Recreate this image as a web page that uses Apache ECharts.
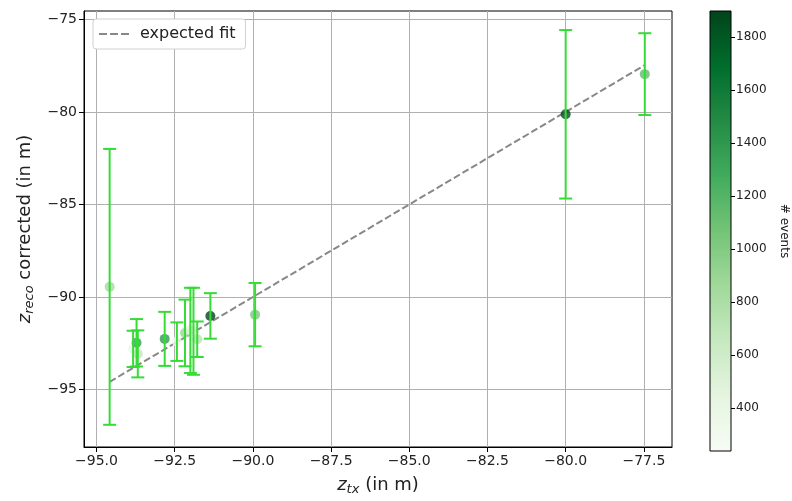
<!DOCTYPE html>
<html>
<head>
<meta charset="utf-8">
<script src="https://cdn.jsdelivr.net/npm/echarts@6/dist/echarts.min.js"></script>
<style>
  html, body { margin: 0; padding: 0; background: #fff; }
  #main { width: 792px; height: 501px; }
</style>
</head>
<body>
<div id="main"></div>
<script>
// z_tx (in m)
var zTx = [-94.58, -93.83, -93.72, -93.68, -92.82, -92.43, -92.17, -92.0, -91.9, -91.78, -91.36, -89.93, -80.0, -77.47];
// z_reco corrected (in m)
var zReco = [-89.45, -92.8, -92.47, -93.07, -92.26, -92.41, -91.94, -91.8, -91.85, -92.28, -91.02, -90.95, -80.13, -77.96];
// error on z_reco
var zErr = [7.45, 0.98, 1.28, 1.27, 1.46, 1.04, 1.8, 2.3, 2.35, 0.96, 1.23, 1.71, 4.55, 2.21];
// # events (colour)
var nEvents = [850, 400, 1350, 650, 1400, 300, 900, 450, 500, 750, 1900, 1040, 1850, 1150];

var xTicks = [-95, -92.5, -90, -87.5, -85, -82.5, -80, -77.5];
var yTicks = [-95, -90, -85, -80, -75];
var cbTicks = [400, 600, 800, 1000, 1200, 1400, 1600, 1800];
var cbMin = 238, cbMax = 1898;

// matplotlib Greens
var greens = ['#f7fcf5', '#e5f5e0', '#c7e9c0', '#a1d99b', '#74c476', '#41ab5d', '#238b45', '#006d2c', '#00441b'];

var fitLine = [[zTx[0], zTx[0]], [zTx[zTx.length - 1], zTx[zTx.length - 1]]];

var pts = [], errs = [];
for (var i = 0; i < zTx.length; i++) {
    pts.push([zTx[i], zReco[i], nEvents[i]]);
    errs.push([zTx[i], zReco[i], zErr[i]]);
}

function minus(s) { return String(s).replace('-', '\u2212'); }

var font = 'DejaVu Sans';
var cbStops = greens.map(function (c, k) { return {offset: k / (greens.length - 1), color: c}; });

var myChart = echarts.init(document.getElementById('main'));
myChart.setOption({
    animation: false,
    textStyle: {fontFamily: font},
    grid: [
        {left: 84, right: 120, top: 11, bottom: 49, show: true, borderColor: '#000', borderWidth: 1},
        {left: 710, width: 21, top: 11, bottom: 50, show: true, borderColor: '#000', borderWidth: 1,
            backgroundColor: new echarts.graphic.LinearGradient(0, 1, 0, 0, cbStops)}
    ],
    legend: {
        data: [{name: 'expected fit', icon: 'path://M0,0h8v2h-8zM11,0h8v2h-8zM22,0h8v2h-8z'}],
        left: 93, top: 19,
        padding: [7, 10, 7, 6],
        itemWidth: 30, itemHeight: 2, itemGap: 8,
        borderColor: '#d0d0d0', borderWidth: 1, borderRadius: 3,
        backgroundColor: '#fff',
        textStyle: {fontFamily: font, fontSize: 16, color: '#222', padding: [0, 0, 0, 6]}
    },
    visualMap: {
        show: false,
        type: 'continuous',
        seriesIndex: 1,
        dimension: 2,
        min: cbMin, max: cbMax,
        inRange: {color: greens}
    },
    xAxis: [{
        type: 'value', gridIndex: 0,
        min: -95.4, max: -76.6,
        name: '{i|z}{s|tx} (in m)',
        nameLocation: 'middle', nameGap: 27,
        nameTextStyle: {
            fontSize: 18, color: '#222',
            rich: {
                i: {fontStyle: 'italic', fontSize: 18, fontFamily: font, color: '#222'},
                s: {fontStyle: 'italic', fontSize: 13, fontFamily: font, color: '#222', padding: [9, 0, 0, 0]}
            }
        },
        axisLine: {show: true, onZero: false, lineStyle: {color: '#000'}},
        axisTick: {show: true, length: 5, customValues: xTicks, lineStyle: {color: '#000'}},
        axisLabel: {customValues: xTicks, fontSize: 14, color: '#222', margin: 7,
            formatter: function (v) { return minus(v.toFixed(1)); }},
        splitLine: {show: true, lineStyle: {color: '#b0b0b0', width: 1}}
    }, {
        type: 'category', gridIndex: 1, data: ['cb'], show: false
    }],
    yAxis: [{
        type: 'value', gridIndex: 0,
        min: -98.1, max: -74.55,
        name: '{i|z}{s|reco} corrected (in m)',
        nameLocation: 'middle', nameGap: 42,
        nameTextStyle: {
            fontSize: 18, color: '#222',
            rich: {
                i: {fontStyle: 'italic', fontSize: 18, fontFamily: font, color: '#222'},
                s: {fontStyle: 'italic', fontSize: 13, fontFamily: font, color: '#222', padding: [9, 0, 0, 0]}
            }
        },
        axisLine: {show: true, onZero: false, lineStyle: {color: '#000'}},
        axisTick: {show: true, length: 5, customValues: yTicks, lineStyle: {color: '#000'}},
        axisLabel: {customValues: yTicks, fontSize: 14, color: '#222', margin: 7,
            formatter: function (v) { return minus(v); }},
        splitLine: {show: true, lineStyle: {color: '#b0b0b0', width: 1}}
    }, {
        type: 'value', gridIndex: 1, position: 'right',
        min: cbMin, max: cbMax,
        name: '# events',
        nameLocation: 'middle', nameGap: 47, nameRotate: -90,
        nameTextStyle: {fontSize: 12, color: '#222'},
        axisLine: {show: false},
        axisTick: {show: true, length: 4, customValues: cbTicks, lineStyle: {color: '#000'}},
        axisLabel: {customValues: cbTicks, fontSize: 12, color: '#222', margin: 5,
            formatter: function (v) { return String(v); }},
        splitLine: {show: false}
    }],
    series: [{
        name: 'expected fit',
        type: 'line',
        xAxisIndex: 0, yAxisIndex: 0,
        data: fitLine,
        symbol: 'none',
        lineStyle: {color: '#888888', width: 2, type: [7, 3]},
        itemStyle: {color: '#888888'},
        z: 2
    }, {
        name: 'events',
        type: 'scatter',
        xAxisIndex: 0, yAxisIndex: 0,
        data: pts,
        symbolSize: 10,
        z: 3
    }, {
        name: 'err',
        type: 'custom',
        xAxisIndex: 0, yAxisIndex: 0,
        data: errs,
        encode: {x: 0, y: 1},
        z: 4,
        renderItem: function (params, api) {
            var x = api.value(0), y = api.value(1), e = api.value(2);
            var top = api.coord([x, y + e]);
            var bot = api.coord([x, y - e]);
            var cap = 6.5;
            var st = {stroke: '#35dc35', lineWidth: 2};
            return {
                type: 'group',
                children: [
                    {type: 'line', shape: {x1: top[0], y1: top[1], x2: bot[0], y2: bot[1]}, style: st},
                    {type: 'line', shape: {x1: top[0] - cap, y1: top[1], x2: top[0] + cap, y2: top[1]}, style: st},
                    {type: 'line', shape: {x1: bot[0] - cap, y1: bot[1], x2: bot[0] + cap, y2: bot[1]}, style: st}
                ]
            };
        }
    }]
});
</script>
</body>
</html>
